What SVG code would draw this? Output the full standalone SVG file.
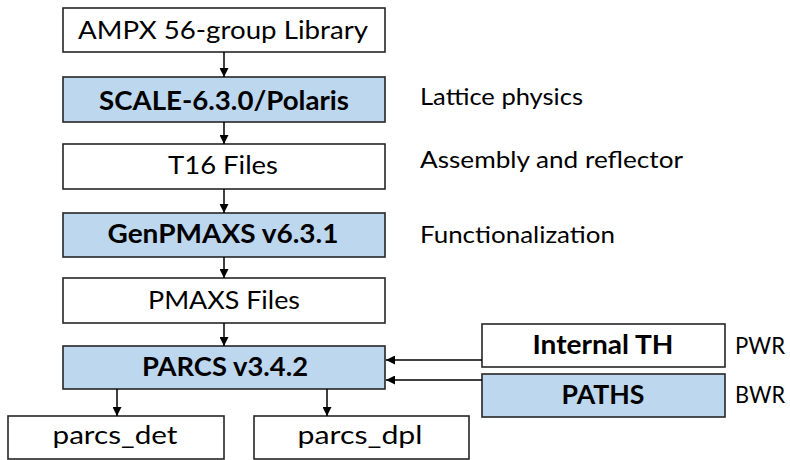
<svg xmlns="http://www.w3.org/2000/svg" width="790" height="460" viewBox="0 0 790 460">
<defs>
<marker id="ah" viewBox="0 0 10 10" refX="10" refY="5" markerWidth="9" markerHeight="9" markerUnits="userSpaceOnUse" orient="auto">
<path d="M0,0 L10,5 L0,10 z" fill="#000"/>
</marker>
<style>
.box{stroke:#262626;stroke-width:1.6;}
.w{fill:#fff;}
.b{fill:#bdd7ee;}
.t{font-family:Lato,"Liberation Sans",sans-serif;font-size:25px;fill:#000;text-anchor:middle;}
.tb{font-family:Lato,"Liberation Sans",sans-serif;font-size:27px;font-weight:bold;fill:#000;text-anchor:middle;}
.side{font-family:Lato,"Liberation Sans",sans-serif;font-size:24px;fill:#000;}
.c{stroke:#000;stroke-width:1.5;fill:none;marker-end:url(#ah);}
</style>
</defs>
<rect width="790" height="460" fill="#fff"/>
<g id="ampx"><rect class="box w" x="63" y="8" width="322" height="44"/><text class="t" x="223" y="39" textLength="290" lengthAdjust="spacingAndGlyphs">AMPX 56-group Library</text></g>
<g id="scale"><rect class="box b" x="63" y="77" width="322" height="45"/><text class="tb" x="224" y="110" textLength="250" lengthAdjust="spacingAndGlyphs">SCALE-6.3.0/Polaris</text></g>
<g id="t16"><rect class="box w" x="63" y="144" width="322" height="45"/><text class="t" x="223" y="174" textLength="110" lengthAdjust="spacingAndGlyphs">T16 Files</text></g>
<g id="genpmaxs"><rect class="box b" x="63" y="213" width="322" height="44"/><text class="tb" x="223" y="243" textLength="231" lengthAdjust="spacingAndGlyphs">GenPMAXS v6.3.1</text></g>
<g id="pmaxs"><rect class="box w" x="63" y="278" width="322" height="45"/><text class="t" x="224" y="309" textLength="152" lengthAdjust="spacingAndGlyphs">PMAXS Files</text></g>
<g id="parcs"><rect class="box b" x="63" y="346" width="322" height="43"/><text class="tb" x="225" y="376" textLength="166" lengthAdjust="spacingAndGlyphs">PARCS v3.4.2</text></g>
<g id="parcs_det"><rect class="box w" x="8" y="416" width="216" height="43"/><text class="t" x="115" y="444" textLength="125" lengthAdjust="spacingAndGlyphs">parcs_det</text></g>
<g id="parcs_dpl"><rect class="box w" x="254" y="416" width="215" height="43"/><text class="t" x="360" y="444" textLength="125" lengthAdjust="spacingAndGlyphs">parcs_dpl</text></g>
<g id="internal_th"><rect class="box w" x="482" y="324" width="243" height="43"/><text class="tb" x="603" y="354" textLength="141" lengthAdjust="spacingAndGlyphs">Internal TH</text></g>
<g id="paths"><rect class="box b" x="482" y="374" width="243" height="43"/><text class="tb" x="603" y="404" textLength="83" lengthAdjust="spacingAndGlyphs">PATHS</text></g>
<g id="labels">
<text class="side" x="420" y="105" textLength="163" lengthAdjust="spacingAndGlyphs">Lattice physics</text>
<text class="side" x="420" y="168" textLength="263" lengthAdjust="spacingAndGlyphs">Assembly and reflector</text>
<text class="side" x="420" y="243" textLength="195" lengthAdjust="spacingAndGlyphs">Functionalization</text>
<text class="side" x="735" y="354" textLength="50" lengthAdjust="spacingAndGlyphs">PWR</text>
<text class="side" x="735" y="403" textLength="50" lengthAdjust="spacingAndGlyphs">BWR</text>
</g>
<g id="connectors">
<line class="c" x1="224" y1="52" x2="224" y2="77"/>
<line class="c" x1="224" y1="122" x2="224" y2="144"/>
<line class="c" x1="224" y1="189" x2="224" y2="213"/>
<line class="c" x1="224" y1="257" x2="224" y2="278"/>
<line class="c" x1="224" y1="323" x2="224" y2="346"/>
<line class="c" x1="117" y1="389" x2="117" y2="416"/>
<line class="c" x1="327" y1="389" x2="327" y2="416"/>
<line class="c" x1="482" y1="360" x2="386" y2="360"/>
<line class="c" x1="482" y1="380" x2="386" y2="380"/>
</g>
</svg>
